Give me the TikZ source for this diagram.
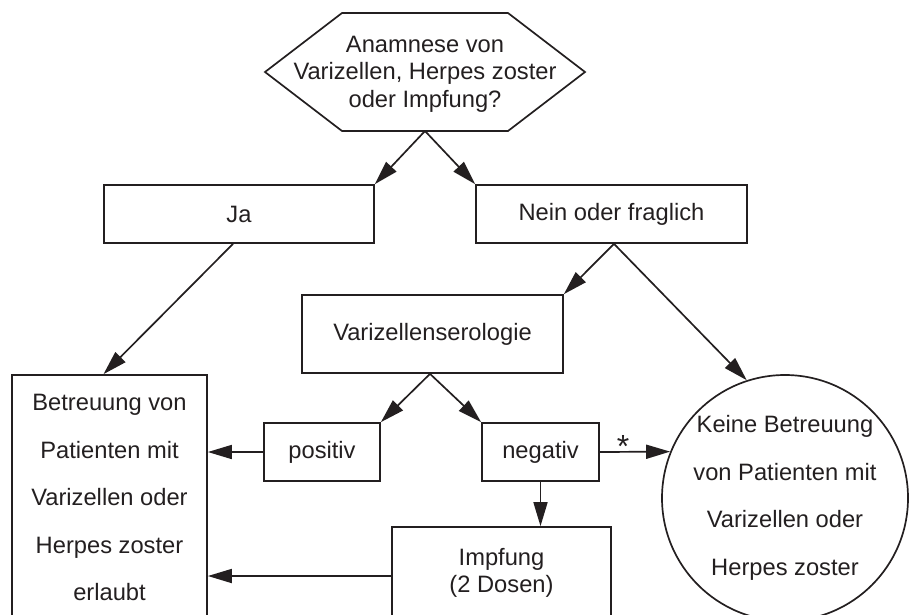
\documentclass[tikz,border=0pt]{standalone}
\usepackage{fontspec}
\setmainfont{Liberation Sans}
\usetikzlibrary{calc, arrows.meta}

\definecolor{ink}{HTML}{231F20}
\tikzset{
	box/.style = {draw=ink, text=ink, line width=1.7pt, font=\fontsize{23.7}{27.5}\selectfont, align=center, inner sep=0pt},
	weit/.style = {font=\fontsize{23.7}{47.5}\selectfont},
	pfeil/.style = {draw=ink, line width=1.7pt, -{Triangle[length=24pt, width=14pt]}}
}

\begin{document}
\begin{tikzpicture}[x=1pt, y=-1pt]
	\useasboundingbox (0,0) rectangle (915,614);
	\coordinate (H) at (425,72);
	\coordinate (Hs) at (425,131);
	\draw[ink, line width=1.7pt] (H) ++(-160,0) -- ++(77,-59) -- ++(166,0) -- ++(77,59) -- ++(-77,59) -- ++(-166,0) -- cycle;
	\node (anam) [box, draw=none] at (425,74) {Anamnese von\\Varizellen, Herpes zoster\\oder Impfung?};
	\node (ja) [box, minimum width=270pt, minimum height=58pt] at (239,214) {Ja};
	\node (nein) [box, minimum width=271pt, minimum height=58pt] at (611.5,214) {Nein oder fraglich};
	\node (sero) [box, minimum width=261pt, minimum height=78pt] at (432.5,334) {Varizellenserologie};
	\node (pos) [box, minimum width=116pt, minimum height=58pt] at (322,452) {positiv};
	\node (neg) [box, minimum width=117pt, minimum height=58pt] at (540.5,452) {negativ};
	\node (impf) [box, minimum width=219pt, minimum height=92pt] at (501.5,573) {Impfung\\(2 Dosen)};
	\node (betr) [box, weit, minimum width=195pt, minimum height=245pt] at (109.5,497.5) {Betreuung von\\Patienten mit\\Varizellen oder\\Herpes zoster\\erlaubt};
	\node (keine) [box, weit, circle, minimum size=246pt] at (785,498) {Keine Betreuung\\von Patienten mit\\Varizellen oder\\Herpes zoster};
	\draw[pfeil] (Hs) -- (ja.north east);
	\draw[pfeil] (Hs) -- (nein.north west);
	\draw[pfeil] ([xshift=-6pt]ja.south) -- ([xshift=-6pt]betr.north);
	\draw[pfeil] ([xshift=2.5pt]nein.south) -- (sero.north east);
	\draw[pfeil] ([xshift=2.5pt]nein.south) -- (keine.108);
	\draw[pfeil] ([xshift=-2.5pt]sero.south) -- (pos.north east);
	\draw[pfeil] ([xshift=-2.5pt]sero.south) -- (neg.north west);
	\draw[pfeil] (pos.west) -- (pos.west -| betr.east);
	\draw[pfeil] (neg.east) -- (keine.158) node[pos=0.33, anchor=south, inner sep=0pt, yshift=-6pt, text=ink, font=\fontsize{32}{32}\selectfont] {*};
	\draw[pfeil] (neg.south) -- (neg.south |- impf.north);
	\draw[pfeil] ([yshift=-3pt]impf.west) -- ([yshift=-3pt]impf.west -| betr.east);
\end{tikzpicture}
\end{document}
